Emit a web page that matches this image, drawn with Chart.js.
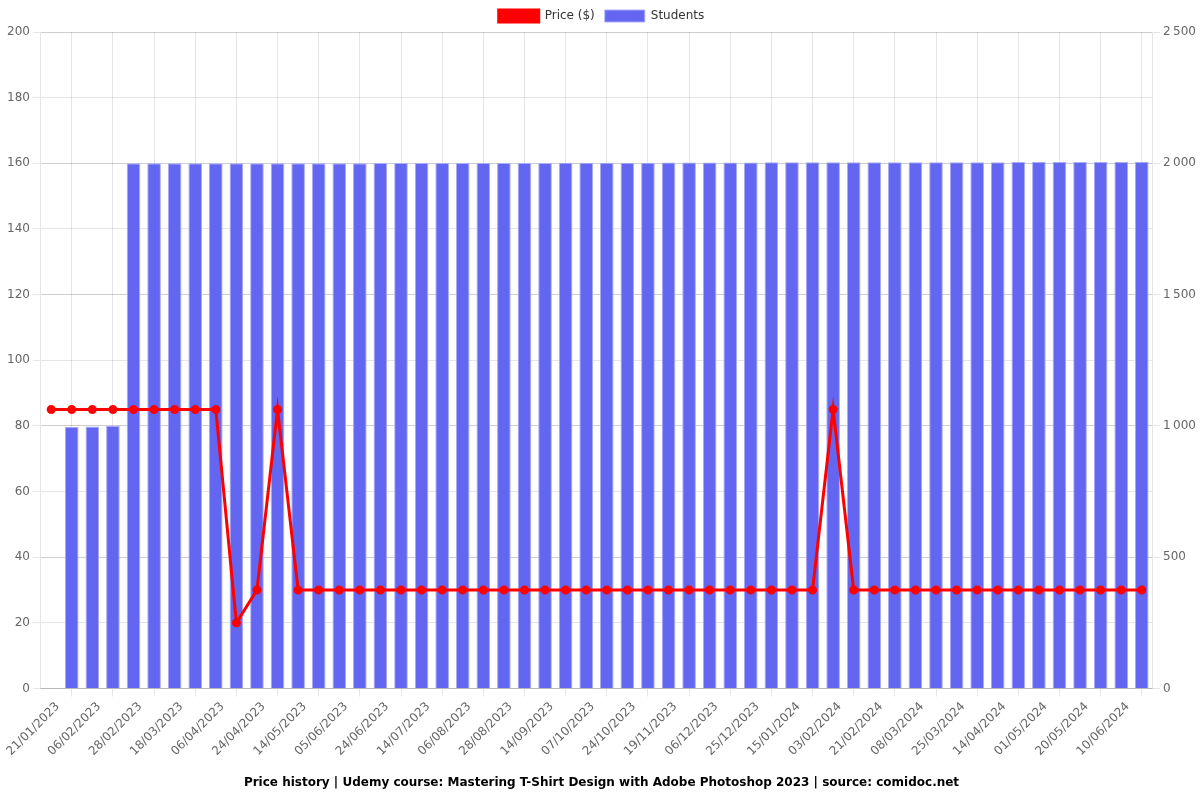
<!DOCTYPE html>
<html>
<head>
<meta charset="utf-8">
<script src="https://cdn.jsdelivr.net/npm/chart.js@4"></script>
<style>
  html, body { margin: 0; padding: 0; background: #fff; }
  #wrap { width: 1200px; height: 800px; }
</style>
</head>
<body>
<div id="wrap"><canvas id="priceChart"></canvas></div>
<script>
// categories (only odd ones are shown on the axis)
const dates = [
  "12/01/2023", "21/01/2023", "29/01/2023", "06/02/2023", "17/02/2023", "28/02/2023",
  "09/03/2023", "18/03/2023", "27/03/2023", "06/04/2023", "15/04/2023", "24/04/2023",
  "04/05/2023", "14/05/2023", "25/05/2023", "05/06/2023", "15/06/2023", "24/06/2023",
  "04/07/2023", "14/07/2023", "25/07/2023", "06/08/2023", "17/08/2023", "28/08/2023",
  "06/09/2023", "14/09/2023", "25/09/2023", "07/10/2023", "16/10/2023", "24/10/2023",
  "01/11/2023", "19/11/2023", "28/11/2023", "06/12/2023", "15/12/2023", "25/12/2023",
  "05/01/2024", "15/01/2024", "25/01/2024", "03/02/2024", "12/02/2024", "21/02/2024",
  "29/02/2024", "08/03/2024", "16/03/2024", "25/03/2024", "04/04/2024", "14/04/2024",
  "22/04/2024", "01/05/2024", "10/05/2024", "20/05/2024", "30/05/2024", "10/06/2024"
];

const prices = [
  85, 85, 85, 85, 85, 85, 85, 85, 85, 20, 30, 85,
  30, 30, 30, 30, 30, 30, 30, 30, 30, 30, 30, 30,
  30, 30, 30, 30, 30, 30, 30, 30, 30, 30, 30, 30,
  30, 30, 85, 30, 30, 30, 30, 30, 30, 30, 30, 30,
  30, 30, 30, 30, 30, 30
];

const students = [
  null, 997, 998, 1001, 2000, 2000, 2000, 2000, 2000, 2000, 2000, 2000,
  2000, 2000, 2000, 2000, 2001, 2001, 2001, 2001, 2001, 2001, 2001, 2001,
  2001, 2002, 2002, 2002, 2002, 2002, 2003, 2003, 2003, 2003, 2003, 2004,
  2004, 2004, 2004, 2004, 2004, 2004, 2004, 2004, 2004, 2004, 2004, 2005,
  2005, 2005, 2005, 2005, 2005, 2006
];

const priceTicks = { min: 0, max: 200, step: 20 };
const studentTicks = { min: 0, max: 2500, step: 500 };

Chart.defaults.font.family = "'DejaVu Sans', sans-serif";
Chart.defaults.font.size = 12;
Chart.defaults.color = "#666";

function fmtSpace(v) {
  return String(v).replace(/\B(?=(\d{3})+(?!\d))/g, "\u202f");
}

new Chart(document.getElementById("priceChart"), {
  type: "bar",
  data: {
    labels: dates,
    datasets: [
      {
        type: "line",
        label: "Price ($)",
        data: prices,
        yAxisID: "y",
        borderColor: "#ff0000",
        backgroundColor: "#ff0000",
        borderWidth: 3,
        pointRadius: 3,
        pointBackgroundColor: "#ff0000",
        pointBorderColor: "#ff0000",
        tension: 0,
      },
      {
        type: "bar",
        label: "Students",
        data: students,
        yAxisID: "y1",
        backgroundColor: "rgba(99,102,241,1)",
        borderColor: "rgba(170,172,247,1)",
        borderWidth: 1,
        categoryPercentage: 0.8,
        barPercentage: 0.83,
      },
    ],
  },
  options: {
    responsive: true,
    maintainAspectRatio: false,
    animation: false,
    layout: { padding: { left: 4, right: 1, top: 0, bottom: 4 } },
    plugins: {
      legend: {
        display: true,
        position: "top",
        labels: { boxWidth: 40, boxHeight: 12, color: "#333" },
      },
      title: {
        display: true,
        position: "bottom",
        text: "Price history | Udemy course: Mastering T-Shirt Design with Adobe Photoshop 2023 | source: comidoc.net",
        color: "#000",
        font: { size: 12, weight: "bold" },
        padding: { top: 14, bottom: 6 },
      },
      tooltip: { enabled: false },
    },
    scales: {
      x: {
        ticks: {
          autoSkip: false,
          maxRotation: 45,
          minRotation: 45,
          labelOffset: -14,
          callback: function (val, i) {
            return i % 2 === 1 ? dates[i] : "";
          },
        },
        grid: {
          offset: false,
          color: ctx => (ctx.index % 2 === 1 ? "rgba(0,0,0,0.1)" : "rgba(0,0,0,0)"),
          tickColor: ctx => (ctx.index % 2 === 1 ? "rgba(0,0,0,0.1)" : "rgba(0,0,0,0)"),
        },
      },
      y: {
        position: "left",
        min: priceTicks.min,
        max: priceTicks.max,
        ticks: { stepSize: priceTicks.step },
        grid: { color: "rgba(0,0,0,0.1)" },
      },
      y1: {
        position: "right",
        min: studentTicks.min,
        max: studentTicks.max,
        ticks: { stepSize: studentTicks.step, callback: v => fmtSpace(v) },
        grid: { color: "rgba(0,0,0,0.1)" },
      },
    },
  },
});
</script>
</body>
</html>
